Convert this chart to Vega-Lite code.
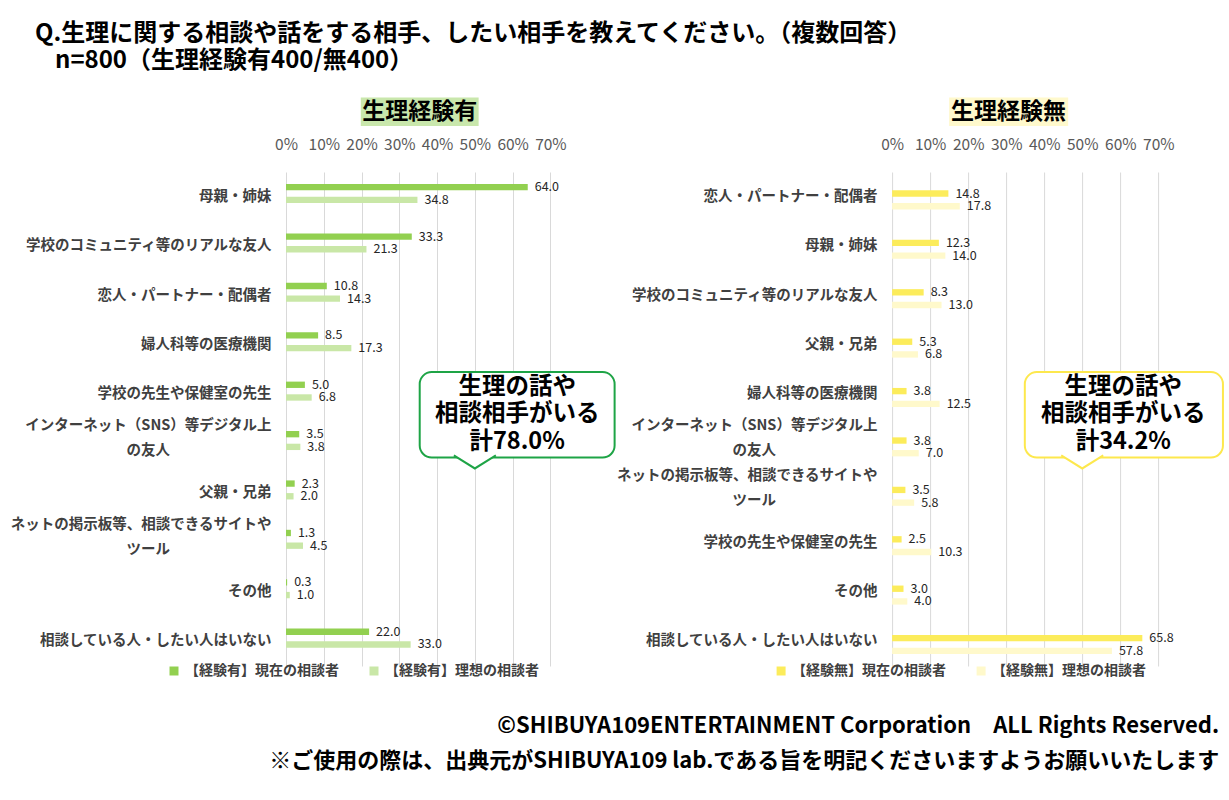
{
  "$schema": "https://vega.github.io/schema/vega-lite/v6.json",
  "padding": {"left": 10, "top": 22, "right": 4, "bottom": 5},
  "background": "white",
  "title": {
    "text": ["Q.生理に関する相談や話をする相手、したい相手を教えてください。（複数回答）", "\u200b\u2002\u2004n=800（生理経験有400/無400）"],
    "anchor": "start",
    "fontSize": 24,
    "fontWeight": "bold",
    "color": "#000000",
    "lineHeight": 27,
    "dx": 25,
    "offset": 24
  },
  "datasets": {
    "ari": [
      {"category": "母親・姉妹", "series": "【経験有】現在の相談者", "value": 64.0},
      {"category": "母親・姉妹", "series": "【経験有】理想の相談者", "value": 34.8},
      {"category": "学校のコミュニティ等のリアルな友人", "series": "【経験有】現在の相談者", "value": 33.3},
      {"category": "学校のコミュニティ等のリアルな友人", "series": "【経験有】理想の相談者", "value": 21.3},
      {"category": "恋人・パートナー・配偶者", "series": "【経験有】現在の相談者", "value": 10.8},
      {"category": "恋人・パートナー・配偶者", "series": "【経験有】理想の相談者", "value": 14.3},
      {"category": "婦人科等の医療機関", "series": "【経験有】現在の相談者", "value": 8.5},
      {"category": "婦人科等の医療機関", "series": "【経験有】理想の相談者", "value": 17.3},
      {"category": "学校の先生や保健室の先生", "series": "【経験有】現在の相談者", "value": 5.0},
      {"category": "学校の先生や保健室の先生", "series": "【経験有】理想の相談者", "value": 6.8},
      {"category": "インターネット（SNS）等デジタル上の友人", "series": "【経験有】現在の相談者", "value": 3.5},
      {"category": "インターネット（SNS）等デジタル上の友人", "series": "【経験有】理想の相談者", "value": 3.8},
      {"category": "父親・兄弟", "series": "【経験有】現在の相談者", "value": 2.3},
      {"category": "父親・兄弟", "series": "【経験有】理想の相談者", "value": 2.0},
      {"category": "ネットの掲示板等、相談できるサイトやツール", "series": "【経験有】現在の相談者", "value": 1.3},
      {"category": "ネットの掲示板等、相談できるサイトやツール", "series": "【経験有】理想の相談者", "value": 4.5},
      {"category": "その他", "series": "【経験有】現在の相談者", "value": 0.3},
      {"category": "その他", "series": "【経験有】理想の相談者", "value": 1.0},
      {"category": "相談している人・したい人はいない", "series": "【経験有】現在の相談者", "value": 22.0},
      {"category": "相談している人・したい人はいない", "series": "【経験有】理想の相談者", "value": 33.0}
    ],
    "nashi": [
      {"category": "恋人・パートナー・配偶者", "series": "【経験無】現在の相談者", "value": 14.8},
      {"category": "恋人・パートナー・配偶者", "series": "【経験無】理想の相談者", "value": 17.8},
      {"category": "母親・姉妹", "series": "【経験無】現在の相談者", "value": 12.3},
      {"category": "母親・姉妹", "series": "【経験無】理想の相談者", "value": 14.0},
      {"category": "学校のコミュニティ等のリアルな友人", "series": "【経験無】現在の相談者", "value": 8.3},
      {"category": "学校のコミュニティ等のリアルな友人", "series": "【経験無】理想の相談者", "value": 13.0},
      {"category": "父親・兄弟", "series": "【経験無】現在の相談者", "value": 5.3},
      {"category": "父親・兄弟", "series": "【経験無】理想の相談者", "value": 6.8},
      {"category": "婦人科等の医療機関", "series": "【経験無】現在の相談者", "value": 3.8},
      {"category": "婦人科等の医療機関", "series": "【経験無】理想の相談者", "value": 12.5},
      {"category": "インターネット（SNS）等デジタル上の友人", "series": "【経験無】現在の相談者", "value": 3.8},
      {"category": "インターネット（SNS）等デジタル上の友人", "series": "【経験無】理想の相談者", "value": 7.0},
      {"category": "ネットの掲示板等、相談できるサイトやツール", "series": "【経験無】現在の相談者", "value": 3.5},
      {"category": "ネットの掲示板等、相談できるサイトやツール", "series": "【経験無】理想の相談者", "value": 5.8},
      {"category": "学校の先生や保健室の先生", "series": "【経験無】現在の相談者", "value": 2.5},
      {"category": "学校の先生や保健室の先生", "series": "【経験無】理想の相談者", "value": 10.3},
      {"category": "その他", "series": "【経験無】現在の相談者", "value": 3.0},
      {"category": "その他", "series": "【経験無】理想の相談者", "value": 4.0},
      {"category": "相談している人・したい人はいない", "series": "【経験無】現在の相談者", "value": 65.8},
      {"category": "相談している人・したい人はいない", "series": "【経験無】理想の相談者", "value": 57.8}
    ]
  },
  "hconcat": [
    {
      "width": 264.4,
      "height": 494,
      "layer": [
        {
          "data": {"name": "ari"},
          "encoding": {
            "y": {
              "field": "category",
              "type": "nominal",
              "sort": ["母親・姉妹", "学校のコミュニティ等のリアルな友人", "恋人・パートナー・配偶者", "婦人科等の医療機関", "学校の先生や保健室の先生", "インターネット（SNS）等デジタル上の友人", "父親・兄弟", "ネットの掲示板等、相談できるサイトやツール", "その他", "相談している人・したい人はいない"],
              "scale": {"paddingInner": 0.486, "paddingOuter": 0.243},
              "axis": {
                "title": null,
                "domain": false,
                "ticks": false,
                "labelPadding": 15,
                "labelFontSize": 14.5,
                "labelFontWeight": "bold",
                "labelColor": "#404040",
                "labelLimit": 400,
                "labelLineHeight": 25,
                "labelOffset": {"condition": {"test": "datum.value == 'インターネット（SNS）等デジタル上の友人' || datum.value == 'ネットの掲示板等、相談できるサイトやツール'", "value": -17.5}, "value": 0},
                "labelExpr": "datum.label == 'インターネット（SNS）等デジタル上の友人' ? ['インターネット（SNS）等デジタル上', 'の友人　　　　　　　\u200b'] : datum.label == 'ネットの掲示板等、相談できるサイトやツール' ? ['ネットの掲示板等、相談できるサイトや', 'ツール　　　　　　　\u200b'] : datum.label"
              }
            },
            "yOffset": {"field": "series", "sort": ["【経験有】現在の相談者", "【経験有】理想の相談者"]},
            "x": {
              "field": "value",
              "type": "quantitative",
              "scale": {"domain": [0, 70], "nice": false},
              "axis": {"orient": "top", "title": null, "values": [0, 10, 20, 30, 40, 50, 60, 70], "labelExpr": "datum.value + '%'", "labelOverlap": false, "domain": false, "ticks": false, "grid": true, "gridColor": "#d9d9d9", "labelPadding": 20, "labelFontSize": 15.5, "labelColor": "#595959", "labelFlush": false}
            }
          },
          "layer": [
            {
              "mark": {"type": "bar"},
              "encoding": {
                "color": {
                  "field": "series",
                  "type": "nominal",
                  "scale": {"domain": ["【経験有】現在の相談者", "【経験有】理想の相談者"], "range": ["#92d050", "#c9e7a7"]},
                  "legend": {
                    "orient": "none",
                    "legendX": -119,
                    "legendY": 492,
                    "direction": "horizontal",
                    "title": null,
                    "symbolType": "square",
                    "symbolSize": 81,
                    "symbolStrokeWidth": 0,
                    "labelFontSize": 14,
                    "labelFontWeight": "bold",
                    "labelColor": "#404040",
                    "labelLimit": 300,
                    "labelOffset": 4,
                    "columnPadding": 28
                  }
                }
              }
            },
            {
              "mark": {"type": "text", "align": "left", "dx": 7, "fontSize": 12.5, "color": "#262626"},
              "encoding": {"text": {"field": "value", "type": "quantitative", "format": ".1f"}}
            }
          ]
        },
        {
          "data": {"values": [{"note": "生理の話や\n相談相手がいる\n計78.0%", "heading": "生理経験有"}]},
          "layer": [
            {
              "mark": {"type": "rect", "fill": "#c9e7ac"},
              "encoding": {
                "x": {"datum": 19.8, "type": "quantitative", "axis": {"orient": "top", "title": null, "values": [0, 10, 20, 30, 40, 50, 60, 70], "labelExpr": "datum.value + '%'", "labelOverlap": false, "domain": false, "ticks": false, "grid": true, "gridColor": "#d9d9d9", "labelPadding": 20, "labelFontSize": 15.5, "labelColor": "#595959", "labelFlush": false}},
                "x2": {"datum": 51.0},
                "y": {"datum": -1.51, "type": "quantitative", "scale": {"domain": [0, 10], "reverse": true, "nice": false, "zero": false}, "axis": null},
                "y2": {"datum": -0.93}
              }
            },
            {
              "mark": {"type": "text", "fontSize": 23, "fontWeight": "bold", "color": "#000000", "baseline": "middle"},
              "encoding": {
                "x": {"datum": 35.4, "type": "quantitative", "axis": {"orient": "top", "title": null, "values": [0, 10, 20, 30, 40, 50, 60, 70], "labelExpr": "datum.value + '%'", "labelOverlap": false, "domain": false, "ticks": false, "grid": true, "gridColor": "#d9d9d9", "labelPadding": 20, "labelFontSize": 15.5, "labelColor": "#595959", "labelFlush": false}},
                "y": {"datum": -1.22, "type": "quantitative", "scale": {"domain": [0, 10], "reverse": true, "nice": false, "zero": false}, "axis": null},
                "text": {"field": "heading"}
              }
            },
            {
              "mark": {"type": "rect", "fill": "white", "stroke": "#1ea446", "strokeWidth": 2, "cornerRadius": 12},
              "encoding": {
                "x": {"datum": 35.4, "type": "quantitative", "axis": {"orient": "top", "title": null, "values": [0, 10, 20, 30, 40, 50, 60, 70], "labelExpr": "datum.value + '%'", "labelOverlap": false, "domain": false, "ticks": false, "grid": true, "gridColor": "#d9d9d9", "labelPadding": 20, "labelFontSize": 15.5, "labelColor": "#595959", "labelFlush": false}},
                "x2": {"datum": 87.0},
                "y": {"datum": 4.05, "type": "quantitative", "scale": {"domain": [0, 10], "reverse": true, "nice": false, "zero": false}, "axis": null},
                "y2": {"datum": 5.78}
              }
            },
            {
              "mark": {"type": "point", "shape": "M-1,-0.1L0,0.52L1,-0.1", "size": 1764, "filled": false, "fill": "white", "fillOpacity": 1, "stroke": "#1ea446", "strokeWidth": 2, "opacity": 1},
              "encoding": {
                "x": {"datum": 50.0, "type": "quantitative", "axis": {"orient": "top", "title": null, "values": [0, 10, 20, 30, 40, 50, 60, 70], "labelExpr": "datum.value + '%'", "labelOverlap": false, "domain": false, "ticks": false, "grid": true, "gridColor": "#d9d9d9", "labelPadding": 20, "labelFontSize": 15.5, "labelColor": "#595959", "labelFlush": false}},
                "y": {"datum": 5.78, "type": "quantitative", "scale": {"domain": [0, 10], "reverse": true, "nice": false, "zero": false}, "axis": null}
              }
            },
            {
              "mark": {"type": "text", "fontSize": 23.5, "fontWeight": "bold", "color": "#000000", "lineBreak": "\n", "lineHeight": 27.5, "baseline": "middle"},
              "encoding": {
                "x": {"datum": 61.2, "type": "quantitative", "axis": {"orient": "top", "title": null, "values": [0, 10, 20, 30, 40, 50, 60, 70], "labelExpr": "datum.value + '%'", "labelOverlap": false, "domain": false, "ticks": false, "grid": true, "gridColor": "#d9d9d9", "labelPadding": 20, "labelFontSize": 15.5, "labelColor": "#595959", "labelFlush": false}},
                "y": {"datum": 4.35, "type": "quantitative", "scale": {"domain": [0, 10], "reverse": true, "nice": false, "zero": false}, "axis": null},
                "text": {"field": "note"}
              }
            }
          ]
        }
      ],
      "resolve": {"scale": {"y": "independent"}}
    },
    {
      "width": 266.2,
      "height": 494,
      "layer": [
        {
          "data": {"name": "nashi"},
          "encoding": {
            "y": {
              "field": "category",
              "type": "nominal",
              "sort": ["恋人・パートナー・配偶者", "母親・姉妹", "学校のコミュニティ等のリアルな友人", "父親・兄弟", "婦人科等の医療機関", "インターネット（SNS）等デジタル上の友人", "ネットの掲示板等、相談できるサイトやツール", "学校の先生や保健室の先生", "その他", "相談している人・したい人はいない"],
              "scale": {"paddingInner": 0.486, "paddingOuter": 0.243},
              "axis": {
                "title": null,
                "domain": false,
                "ticks": false,
                "labelPadding": 15,
                "labelFontSize": 14.5,
                "labelFontWeight": "bold",
                "labelColor": "#404040",
                "labelLimit": 400,
                "labelLineHeight": 25,
                "labelOffset": {"condition": {"test": "datum.value == 'インターネット（SNS）等デジタル上の友人' || datum.value == 'ネットの掲示板等、相談できるサイトやツール'", "value": -17.5}, "value": 0},
                "labelExpr": "datum.label == 'インターネット（SNS）等デジタル上の友人' ? ['インターネット（SNS）等デジタル上', 'の友人　　　　　　　\u200b'] : datum.label == 'ネットの掲示板等、相談できるサイトやツール' ? ['ネットの掲示板等、相談できるサイトや', 'ツール　　　　　　　\u200b'] : datum.label"
              }
            },
            "yOffset": {"field": "series", "sort": ["【経験無】現在の相談者", "【経験無】理想の相談者"]},
            "x": {
              "field": "value",
              "type": "quantitative",
              "scale": {"domain": [0, 70], "nice": false},
              "axis": {"orient": "top", "title": null, "values": [0, 10, 20, 30, 40, 50, 60, 70], "labelExpr": "datum.value + '%'", "labelOverlap": false, "domain": false, "ticks": false, "grid": true, "gridColor": "#d9d9d9", "labelPadding": 20, "labelFontSize": 15.5, "labelColor": "#595959", "labelFlush": false}
            }
          },
          "layer": [
            {
              "mark": {"type": "bar"},
              "encoding": {
                "color": {
                  "field": "series",
                  "type": "nominal",
                  "scale": {"domain": ["【経験無】現在の相談者", "【経験無】理想の相談者"], "range": ["#fcec5b", "#fff9cb"]},
                  "legend": {
                    "orient": "none",
                    "legendX": -118,
                    "legendY": 492,
                    "direction": "horizontal",
                    "title": null,
                    "symbolType": "square",
                    "symbolSize": 81,
                    "symbolStrokeWidth": 0,
                    "labelFontSize": 14,
                    "labelFontWeight": "bold",
                    "labelColor": "#404040",
                    "labelLimit": 300,
                    "labelOffset": 4,
                    "columnPadding": 28
                  }
                }
              }
            },
            {
              "mark": {"type": "text", "align": "left", "dx": 7, "fontSize": 12.5, "color": "#262626"},
              "encoding": {"text": {"field": "value", "type": "quantitative", "format": ".1f"}}
            }
          ]
        },
        {
          "data": {"values": [{"note": "生理の話や\n相談相手がいる\n計34.2%", "heading": "生理経験無", "credit": "©SHIBUYA109ENTERTAINMENT Corporation　ALL Rights Reserved.\n※ご使用の際は、出典元がSHIBUYA109 lab.である旨を明記くださいますようお願いいたします"}]},
          "layer": [
            {
              "mark": {"type": "rect", "fill": "#fff9cc"},
              "encoding": {
                "x": {"datum": 15.0, "type": "quantitative", "axis": {"orient": "top", "title": null, "values": [0, 10, 20, 30, 40, 50, 60, 70], "labelExpr": "datum.value + '%'", "labelOverlap": false, "domain": false, "ticks": false, "grid": true, "gridColor": "#d9d9d9", "labelPadding": 20, "labelFontSize": 15.5, "labelColor": "#595959", "labelFlush": false}},
                "x2": {"datum": 46.3},
                "y": {"datum": -1.51, "type": "quantitative", "scale": {"domain": [0, 10], "reverse": true, "nice": false, "zero": false}, "axis": null},
                "y2": {"datum": -0.93}
              }
            },
            {
              "mark": {"type": "text", "fontSize": 23, "fontWeight": "bold", "color": "#000000", "baseline": "middle"},
              "encoding": {
                "x": {"datum": 30.6, "type": "quantitative", "axis": {"orient": "top", "title": null, "values": [0, 10, 20, 30, 40, 50, 60, 70], "labelExpr": "datum.value + '%'", "labelOverlap": false, "domain": false, "ticks": false, "grid": true, "gridColor": "#d9d9d9", "labelPadding": 20, "labelFontSize": 15.5, "labelColor": "#595959", "labelFlush": false}},
                "y": {"datum": -1.22, "type": "quantitative", "scale": {"domain": [0, 10], "reverse": true, "nice": false, "zero": false}, "axis": null},
                "text": {"field": "heading"}
              }
            },
            {
              "mark": {"type": "rect", "fill": "white", "stroke": "#fde84d", "strokeWidth": 2, "cornerRadius": 12},
              "encoding": {
                "x": {"datum": 34.9, "type": "quantitative", "axis": {"orient": "top", "title": null, "values": [0, 10, 20, 30, 40, 50, 60, 70], "labelExpr": "datum.value + '%'", "labelOverlap": false, "domain": false, "ticks": false, "grid": true, "gridColor": "#d9d9d9", "labelPadding": 20, "labelFontSize": 15.5, "labelColor": "#595959", "labelFlush": false}},
                "x2": {"datum": 87.0},
                "y": {"datum": 4.05, "type": "quantitative", "scale": {"domain": [0, 10], "reverse": true, "nice": false, "zero": false}, "axis": null},
                "y2": {"datum": 5.78}
              }
            },
            {
              "mark": {"type": "point", "shape": "M-1,-0.1L0,0.52L1,-0.1", "size": 1764, "filled": false, "fill": "white", "fillOpacity": 1, "stroke": "#fde84d", "strokeWidth": 2, "opacity": 1},
              "encoding": {
                "x": {"datum": 50.0, "type": "quantitative", "axis": {"orient": "top", "title": null, "values": [0, 10, 20, 30, 40, 50, 60, 70], "labelExpr": "datum.value + '%'", "labelOverlap": false, "domain": false, "ticks": false, "grid": true, "gridColor": "#d9d9d9", "labelPadding": 20, "labelFontSize": 15.5, "labelColor": "#595959", "labelFlush": false}},
                "y": {"datum": 5.78, "type": "quantitative", "scale": {"domain": [0, 10], "reverse": true, "nice": false, "zero": false}, "axis": null}
              }
            },
            {
              "mark": {"type": "text", "fontSize": 23.5, "fontWeight": "bold", "color": "#000000", "lineBreak": "\n", "lineHeight": 27.5, "baseline": "middle"},
              "encoding": {
                "x": {"datum": 60.8, "type": "quantitative", "axis": {"orient": "top", "title": null, "values": [0, 10, 20, 30, 40, 50, 60, 70], "labelExpr": "datum.value + '%'", "labelOverlap": false, "domain": false, "ticks": false, "grid": true, "gridColor": "#d9d9d9", "labelPadding": 20, "labelFontSize": 15.5, "labelColor": "#595959", "labelFlush": false}},
                "y": {"datum": 4.35, "type": "quantitative", "scale": {"domain": [0, 10], "reverse": true, "nice": false, "zero": false}, "axis": null},
                "text": {"field": "note"}
              }
            },
            {
              "mark": {"type": "text", "fontSize": 22, "fontWeight": "bold", "color": "#000000", "lineBreak": "\n", "lineHeight": 35, "baseline": "middle", "align": "right"},
              "encoding": {
                "x": {"datum": 86.0, "type": "quantitative", "axis": {"orient": "top", "title": null, "values": [0, 10, 20, 30, 40, 50, 60, 70], "labelExpr": "datum.value + '%'", "labelOverlap": false, "domain": false, "ticks": false, "grid": true, "gridColor": "#d9d9d9", "labelPadding": 20, "labelFontSize": 15.5, "labelColor": "#595959", "labelFlush": false}},
                "y": {"datum": 11.21, "type": "quantitative", "scale": {"domain": [0, 10], "reverse": true, "nice": false, "zero": false}, "axis": null},
                "text": {"field": "credit"}
              }
            }
          ]
        }
      ],
      "resolve": {"scale": {"y": "independent"}}
    }
  ],
  "bounds": "flush",
  "spacing": 341.1,
  "resolve": {"scale": {"color": "independent"}, "legend": {"color": "independent"}},
  "config": {
    "font": "Noto Sans CJK JP",
    "view": {"stroke": null}
  }
}
